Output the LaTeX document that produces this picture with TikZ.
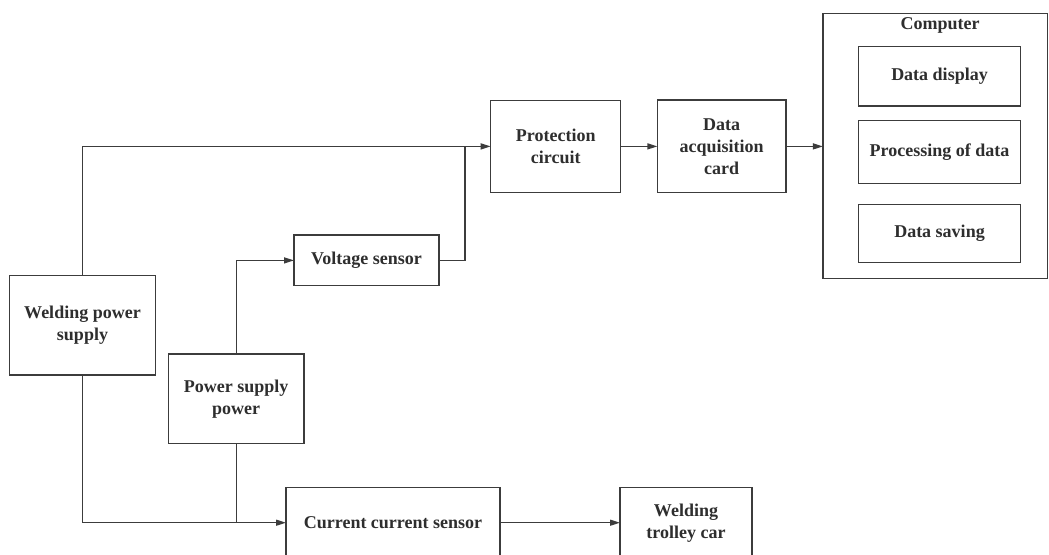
\documentclass[tikz,border=0pt]{standalone}
\usepackage{fontspec}
\setmainfont{Liberation Serif}
\usetikzlibrary{arrows.meta}
\definecolor{ln}{HTML}{3C3C3C}
\definecolor{tx}{HTML}{2E2E2E}
\tikzset{
  blk/.style={draw=ln, line width=1.3pt, rectangle, inner sep=0pt, outer sep=0pt,
    align=center, text=tx, font=\fontsize{18}{22}\selectfont\bfseries},
  lbl/.style={inner sep=0pt, text=tx, font=\fontsize{18}{22}\selectfont\bfseries},
  conn/.style={draw=ln, line width=1.3pt},
  arr/.style={conn, -{Triangle[length=10pt,width=6pt]}}
}
\begin{document}
\begin{tikzpicture}[x=1pt,y=-1pt]
\useasboundingbox (0,0) rectangle (1049,554);
\clip (0,0) rectangle (1049,554);
\fill[white] (0,0) rectangle (1049,554);
\node[blk, minimum width=146.4pt, minimum height=99.3pt] (wps) at (82.5,325.3) {Welding power\\supply};
\node[blk, minimum width=135.7pt, minimum height=89.3pt] (psp) at (236.2,398.7) {Power supply\\power};
\node[blk, minimum width=145pt, minimum height=50.7pt] (volt) at (366.5,260.4) {Voltage sensor};
\node[blk, minimum width=130pt, minimum height=92.3pt] (prot) at (555.7,146.4) {Protection\\circuit};
\node[blk, minimum width=128.7pt, minimum height=92.7pt] (daq) at (721.7,146.4) {Data\\acquisition\\card};
\node[blk, minimum width=224.6pt, minimum height=265pt] (comp) at (935.2,145.8) {};
\node[lbl] (compl) at (940,25.7) {Computer};
\node[blk, minimum width=162.4pt, minimum height=59.3pt] (disp) at (939.5,76.3) {Data display};
\node[blk, minimum width=162.4pt, minimum height=62.6pt] (proc) at (939.5,152) {Processing of data};
\node[blk, minimum width=162.4pt, minimum height=58pt] (save) at (939.5,233.3) {Data saving};
\node[blk, minimum width=214pt, minimum height=70pt] (cur) at (393,522.7) {Current current sensor};
\node[blk, minimum width=132pt, minimum height=70pt] (trol) at (686,522.7) {Welding\\trolley car};
\coordinate (j) at (465,146.4);
\draw[arr] (wps.north) |- (prot.west);
\draw[conn] (volt.east) -| (j);
\draw[arr] (psp.north) |- (volt.west);
\draw[arr] (wps.south) |- (cur.west);
\draw[conn] (psp.south) -- (psp.south |- cur.west);
\draw[arr] (prot.east) -- (daq.west);
\draw[arr] (daq.east) -- (comp.west |- daq.east);
\draw[arr] (cur.east) -- (trol.west);
\end{tikzpicture}
\end{document}
